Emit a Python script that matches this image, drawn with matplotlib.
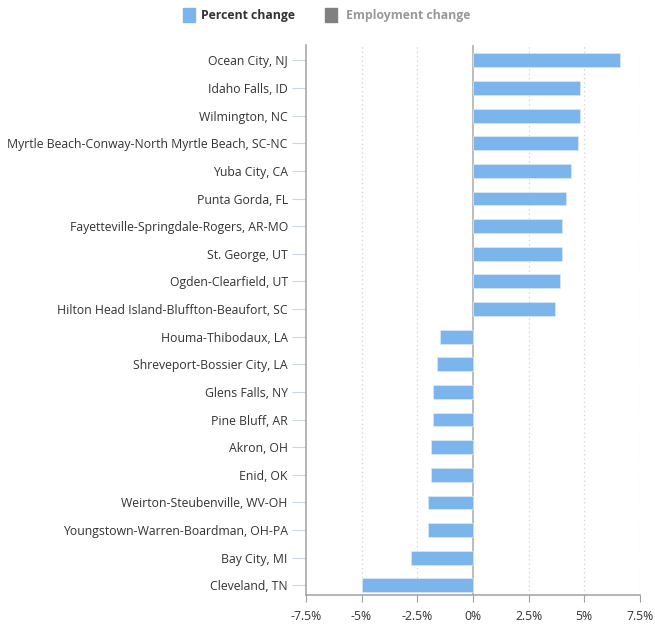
import numpy as np
import matplotlib.pyplot as plt
from matplotlib.patches import Rectangle

# metro areas, top to bottom
areas = ['Ocean City, NJ', 'Idaho Falls, ID', 'Wilmington, NC',
         'Myrtle Beach-Conway-North Myrtle Beach, SC-NC', 'Yuba City, CA',
         'Punta Gorda, FL', 'Fayetteville-Springdale-Rogers, AR-MO',
         'St. George, UT', 'Ogden-Clearfield, UT',
         'Hilton Head Island-Bluffton-Beaufort, SC', 'Houma-Thibodaux, LA',
         'Shreveport-Bossier City, LA', 'Glens Falls, NY', 'Pine Bluff, AR',
         'Akron, OH', 'Enid, OK', 'Weirton-Steubenville, WV-OH',
         'Youngstown-Warren-Boardman, OH-PA', 'Bay City, MI', 'Cleveland, TN']
pct_change = [6.6, 4.8, 4.8, 4.7, 4.4, 4.2, 4.0, 4.0, 3.9, 3.7,
              -1.5, -1.6, -1.8, -1.8, -1.9, -1.9, -2.0, -2.0, -2.8, -5.0]
xticks = [-7.5, -5, -2.5, 0, 2.5, 5, 7.5]
xticklabels = ['-7.5%', '-5%', '-2.5%', '0%', '2.5%', '5%', '7.5%']

plt.rcParams['font.family'] = ['Open Sans', 'DejaVu Sans']
fs = 8.8

fig = plt.figure(figsize=(6.55, 6.27), dpi=100)
ax = fig.add_axes([0.467, 0.051, 0.51, 0.877])

y = np.arange(len(areas))
ax.barh(y, pct_change, height=0.5, color='#7cb5ec', edgecolor='#dbeaf8',
        linewidth=0.5, zorder=3)

ax.set_xlim(-7.5, 7.5)
ax.set_ylim(19.35, -0.55)
ax.set_xticks(xticks)
ax.set_xticklabels(xticklabels)
ax.set_yticks(y)
ax.set_yticklabels(areas)

# dotted grid + solid zero line
for xv in xticks:
    if xv == 0:
        ax.axvline(0, color='#b0b0b0', lw=1.2, zorder=2)
    elif xv != -7.5:
        ax.axvline(xv, color='#d0d0d0', lw=0.9, ls=(0, (1, 2.5)), zorder=1)

for s in ['top', 'right']:
    ax.spines[s].set_visible(False)
ax.spines['left'].set_color('#a0a0a0')
ax.spines['bottom'].set_color('#a0a0a0')
ax.spines['left'].set_linewidth(1.1)
ax.spines['bottom'].set_linewidth(1.1)

ax.tick_params(axis='y', length=10, color='#c8d6e6', labelsize=fs,
               labelcolor='#333333', pad=3)
ax.tick_params(axis='x', length=5, color='#a0a0a0', labelsize=fs,
               labelcolor='#333333', pad=6)

# legend drawn at the top
fig.patches.append(Rectangle((183 / 655, 1 - 22 / 627), 12 / 655, 14 / 627,
                             transform=fig.transFigure, color='#7cb5ec'))
fig.text(201 / 655, 1 - 15.5 / 627, 'Percent change', fontsize=fs,
         fontweight='bold', color='#333333', va='center')
fig.patches.append(Rectangle((325 / 655, 1 - 22 / 627), 12 / 655, 14 / 627,
                             transform=fig.transFigure, color='#808080'))
fig.text(346 / 655, 1 - 15.5 / 627, 'Employment change', fontsize=fs,
         fontweight='bold', color='#999999', va='center')

fig.savefig('out.png', dpi=100)
